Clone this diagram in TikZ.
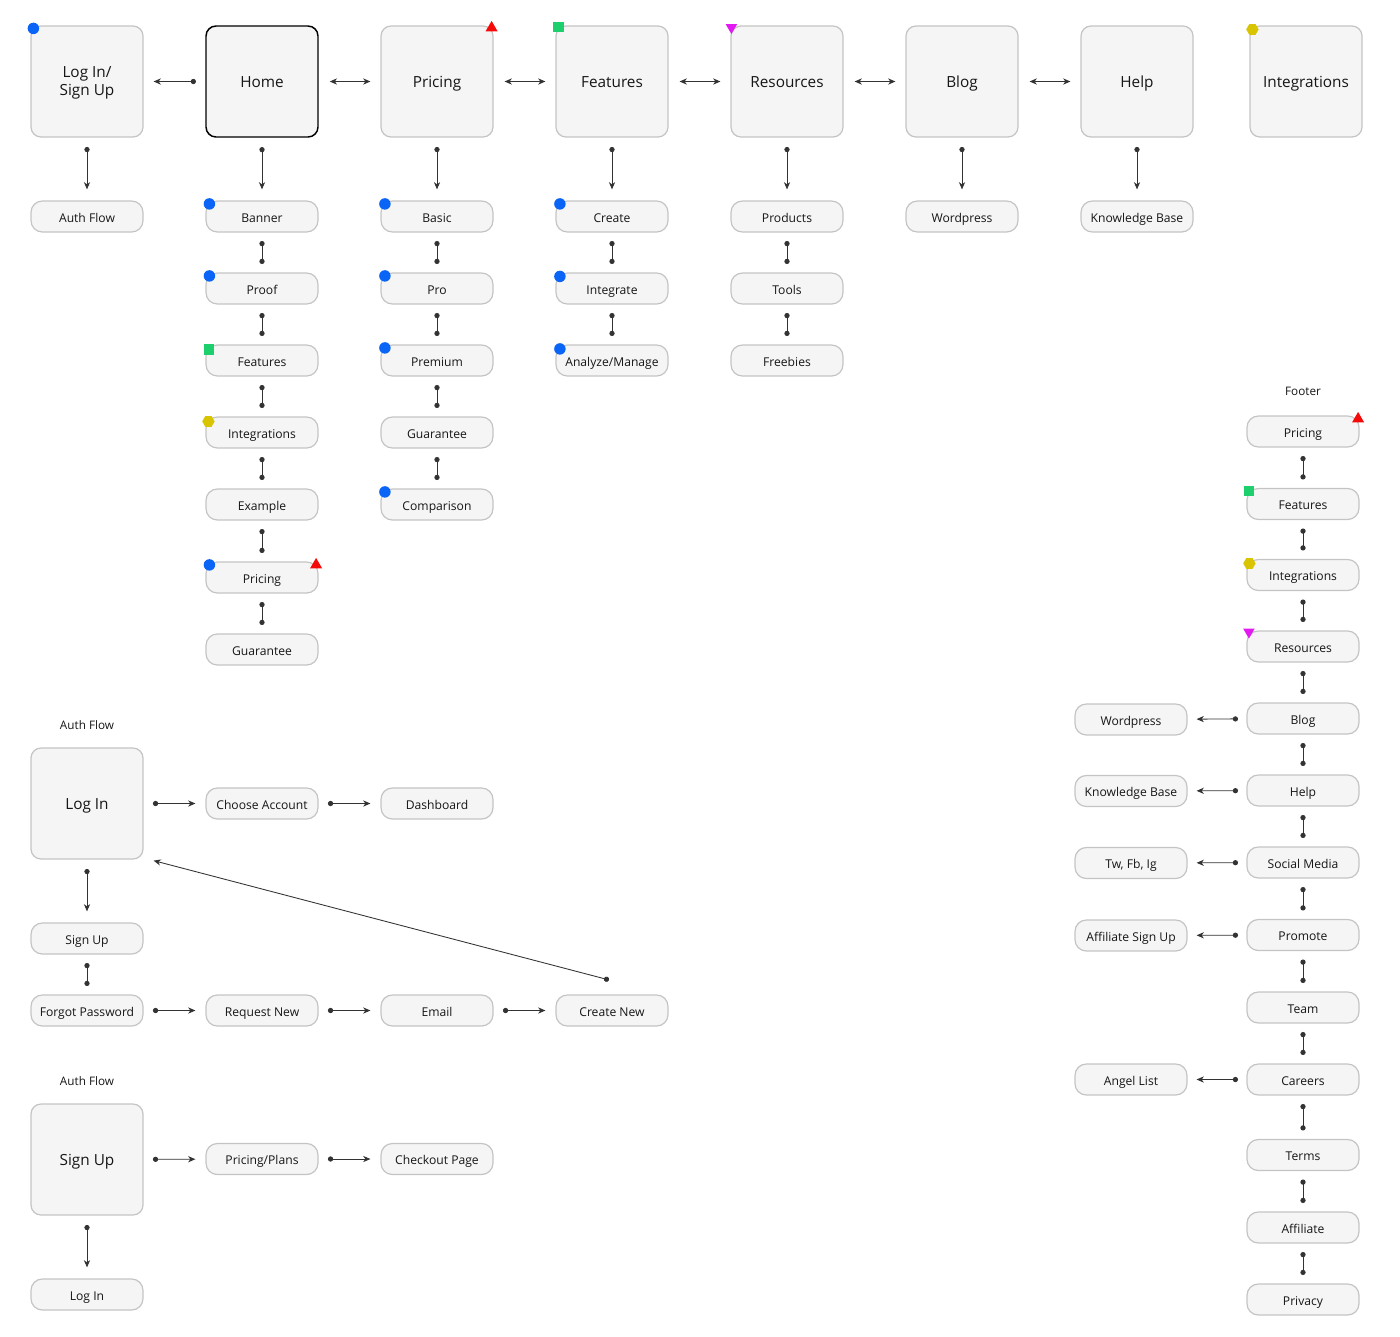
\documentclass[tikz,border=0pt]{standalone}
\usepackage{fontspec}
\setmainfont{Open Sans}
\usetikzlibrary{arrows.meta,shapes.geometric}
\definecolor{boxfill}{HTML}{F5F5F5}
\definecolor{boxline}{HTML}{C4C4C4}
\definecolor{linec}{HTML}{333333}
\definecolor{textc}{HTML}{161616}
\definecolor{mblue}{HTML}{0A64F5}
\definecolor{mred}{HTML}{F50A0A}
\definecolor{mgreen}{HTML}{1ECF6E}
\definecolor{mmag}{HTML}{E01AF0}
\definecolor{myel}{HTML}{D8C400}
\begin{document}
\begin{tikzpicture}[x=0.75pt,y=-0.75pt,
  boxbase/.style={draw=boxline, fill=boxfill, line width=0.9pt, rounded corners=7.5pt,
    minimum width=84pt, minimum height=83.25pt, inner sep=0pt, align=center,
    text=textc, font=\fontsize{11.5}{13.5}\selectfont},
  bigbox/.style={boxbase, text height=0.9em, text depth=0pt},
  twoline/.style={boxbase, text depth=0pt},
  homebox/.style={bigbox, draw=black, line width=1.1pt},
  smallbox/.style={draw=boxline, fill=boxfill, line width=0.9pt, rounded corners=8.5pt,
    minimum width=84pt, minimum height=23.25pt, inner sep=0pt,
    text=textc, font=\fontsize{9.1}{10}\selectfont, text height=0.87em, text depth=0pt},
  caption/.style={text=textc, font=\fontsize{8.8}{10}\selectfont, inner sep=0pt},
  arr/.style={draw=linec, line width=0.65pt,
    {Circle[length=3.9pt]}-{Stealth[length=5.4pt,width=4.6pt,inset=1.6pt]},
    shorten <=7pt, shorten >=7.5pt},
  varr/.style={arr, shorten >=8.25pt},
  bi/.style={draw=linec, line width=0.65pt,
    {Stealth[length=5.4pt,width=4.6pt,inset=1.6pt]}-{Stealth[length=5.4pt,width=4.6pt,inset=1.6pt]},
    shorten <=8.25pt, shorten >=7.5pt},
  dd/.style={draw=linec, line width=0.65pt,
    {Circle[length=3.9pt]}-{Circle[length=3.9pt]},
    shorten <=6.3pt, shorten >=6.3pt},
  bluem/.style={circle, fill=mblue, minimum size=8.6pt, inner sep=0pt},
  greenm/.style={rectangle, fill=mgreen, minimum size=7.8pt, inner sep=0pt},
  redm/.style={regular polygon, regular polygon sides=3, fill=mred, minimum size=10.5pt, inner sep=0pt},
  magm/.style={regular polygon, regular polygon sides=3, shape border rotate=180, fill=mmag, minimum size=10pt, inner sep=0pt},
  yelm/.style={regular polygon, regular polygon sides=6, fill=myel, minimum size=9.3pt, inner sep=0pt},
]
\useasboundingbox (0,0) rectangle (1400,1336);

% ---------------- top row ----------------
\node[twoline] (login) at (87,81.5) {Log In/\\Sign Up};
\node[homebox] (home) at (262,81.5) {Home};
\node[bigbox] (pricing) at (437,81.5) {Pricing};
\node[bigbox] (features) at (612,81.5) {Features};
\node[bigbox] (resources) at (787,81.5) {Resources};
\node[bigbox] (blog) at (962,81.5) {Blog};
\node[bigbox] (help) at (1137,81.5) {Help};
\node[bigbox] (integr) at (1306,81.5) {Integrations};

% sub pages
\node[smallbox] (authflow) at (87,216.5) {Auth Flow};

\node[smallbox] (banner) at (262,216.5) {Banner};
\node[smallbox] (proof) at (262,288.5) {Proof};
\node[smallbox] (hfeat) at (262,360.5) {Features};
\node[smallbox] (hint) at (262,432.5) {Integrations};
\node[smallbox] (hex) at (262,504.5) {Example};
\node[smallbox] (hpri) at (262,577.5) {Pricing};
\node[smallbox] (hgua) at (262,649.5) {Guarantee};

\node[smallbox] (basic) at (437,216.5) {Basic};
\node[smallbox] (pro) at (437,288.5) {Pro};
\node[smallbox] (premium) at (437,360.5) {Premium};
\node[smallbox] (pgua) at (437,432.5) {Guarantee};
\node[smallbox] (compar) at (437,504.5) {Comparison};

\node[smallbox] (create) at (612,216.5) {Create};
\node[smallbox] (integrate) at (612,288.5) {Integrate};
\node[smallbox] (analyze) at (612,360.5) {Analyze/Manage};

\node[smallbox] (products) at (787,216.5) {Products};
\node[smallbox] (tools) at (787,288.5) {Tools};
\node[smallbox] (freebies) at (787,360.5) {Freebies};

\node[smallbox] (wp) at (962,216.5) {Wordpress};
\node[smallbox] (kb) at (1137,216.5) {Knowledge Base};

% top row connectors
\draw[arr] (home) -- (login);
\draw[bi] (home) -- (pricing);
\draw[bi] (pricing) -- (features);
\draw[bi] (features) -- (resources);
\draw[bi] (resources) -- (blog);
\draw[bi] (blog) -- (help);

\draw[varr] (login) -- (authflow);
\draw[varr] (home) -- (banner);
\draw[varr] (pricing) -- (basic);
\draw[varr] (features) -- (create);
\draw[varr] (resources) -- (products);
\draw[varr] (blog) -- (wp);
\draw[varr] (help) -- (kb);

\draw[dd] (banner) -- (proof);
\draw[dd] (proof) -- (hfeat);
\draw[dd] (hfeat) -- (hint);
\draw[dd] (hint) -- (hex);
\draw[dd] (hex) -- (hpri);
\draw[dd] (hpri) -- (hgua);

\draw[dd] (basic) -- (pro);
\draw[dd] (pro) -- (premium);
\draw[dd] (premium) -- (pgua);
\draw[dd] (pgua) -- (compar);

\draw[dd] (create) -- (integrate);
\draw[dd] (integrate) -- (analyze);

\draw[dd] (products) -- (tools);
\draw[dd] (tools) -- (freebies);

% ---------------- footer ----------------
\node[caption] (footerlbl) at (1303,391) {Footer};
\node[smallbox] (fpri) at (1303,431.5) {Pricing};
\node[smallbox] (ffeat) at (1303,504) {Features};
\node[smallbox] (fint) at (1303,575) {Integrations};
\node[smallbox] (fres) at (1303,646.5) {Resources};
\node[smallbox] (fblog) at (1303,718.5) {Blog};
\node[smallbox] (fhelp) at (1303,790.5) {Help};
\node[smallbox] (fsoc) at (1303,862.5) {Social Media};
\node[smallbox] (fprom) at (1303,935) {Promote};
\node[smallbox] (fteam) at (1303,1007.5) {Team};
\node[smallbox] (fcar) at (1303,1079.5) {Careers};
\node[smallbox] (fterms) at (1303,1155) {Terms};
\node[smallbox] (faff) at (1303,1227.5) {Affiliate};
\node[smallbox] (fpriv) at (1303,1299.5) {Privacy};

\node[smallbox] (lwp) at (1131,719.5) {Wordpress};
\node[smallbox] (lkb) at (1131,791) {Knowledge Base};
\node[smallbox] (ltw) at (1131,863) {Tw, Fb, Ig};
\node[smallbox] (laff) at (1131,935.5) {Affiliate Sign Up};
\node[smallbox] (langel) at (1131,1079.5) {Angel List};

\draw[dd] (fpri) -- (ffeat);
\draw[dd] (ffeat) -- (fint);
\draw[dd] (fint) -- (fres);
\draw[dd] (fres) -- (fblog);
\draw[dd] (fblog) -- (fhelp);
\draw[dd] (fhelp) -- (fsoc);
\draw[dd] (fsoc) -- (fprom);
\draw[dd] (fprom) -- (fteam);
\draw[dd] (fteam) -- (fcar);
\draw[dd] (fcar) -- (fterms);
\draw[dd] (fterms) -- (faff);
\draw[dd] (faff) -- (fpriv);

\draw[arr, shorten <=6.3pt, shorten >=6.75pt] (fblog) -- (lwp);
\draw[arr, shorten <=6.3pt, shorten >=6.75pt] (fhelp) -- (lkb);
\draw[arr, shorten <=6.3pt, shorten >=6.75pt] (fsoc) -- (ltw);
\draw[arr, shorten <=6.3pt, shorten >=6.75pt] (fprom) -- (laff);
\draw[arr, shorten <=6.3pt, shorten >=6.75pt] (fcar) -- (langel);

% ---------------- auth flow 1 ----------------
\node[caption] (af1) at (87,725) {Auth Flow};
\node[bigbox] (alogin) at (87,803.5) {Log In};
\node[smallbox] (choose) at (262,803.5) {Choose Account};
\node[smallbox] (dash) at (437,803.5) {Dashboard};
\node[smallbox] (asignup) at (87,938.5) {Sign Up};
\node[smallbox] (forgot) at (87,1010.5) {Forgot Password};
\node[smallbox] (reqnew) at (262,1010.5) {Request New};
\node[smallbox] (email) at (437,1010.5) {Email};
\node[smallbox] (crnew) at (612,1010.5) {Create New};

\draw[arr] (alogin) -- (choose);
\draw[arr] (choose) -- (dash);
\draw[varr] (alogin) -- (asignup);
\draw[dd] (asignup) -- (forgot);
\draw[arr] (forgot) -- (reqnew);
\draw[arr] (reqnew) -- (email);
\draw[arr] (email) -- (crnew);
\draw[arr, shorten <=0pt, shorten >=0pt] ([shift={(-3,-14.5)}]crnew.north) -- ([shift={(10,1)}]alogin.south east);

% ---------------- auth flow 2 ----------------
\node[caption] (af2) at (87,1081.5) {Auth Flow};
\node[bigbox] (bsignup) at (87,1159.5) {Sign Up};
\node[smallbox] (plans) at (262,1159) {Pricing/Plans};
\node[smallbox] (checkout) at (437,1159) {Checkout Page};
\node[smallbox] (blogin) at (87,1294.5) {Log In};

\draw[arr] (bsignup) -- (plans);
\draw[arr] (plans) -- (checkout);
\draw[varr] (bsignup) -- (blogin);

% ---------------- markers ----------------
\node[bluem] (m1) at ([shift={(3,3)}]login.north west) {};
\node[redm] (m2) at ([shift={(-2,2.5)}]pricing.north east) {};
\node[greenm] (m3) at ([shift={(3,1.5)}]features.north west) {};
\node[magm] (m4) at ([shift={(1,2)}]resources.north west) {};
\node[yelm] (m5) at ([shift={(3,4)}]integr.north west) {};

\node[bluem] (m6) at ([shift={(4,3.5)}]banner.north west) {};
\node[bluem] (m7) at ([shift={(4,3.5)}]proof.north west) {};
\node[greenm] (m8) at ([shift={(3.5,5)}]hfeat.north west) {};
\node[yelm] (m9) at ([shift={(3,5)}]hint.north west) {};
\node[bluem] (m10) at ([shift={(4,3.5)}]hpri.north west) {};
\node[redm] (m11) at ([shift={(-2.5,3.5)}]hpri.north east) {};

\node[bluem] (m12) at ([shift={(4.5,3.5)}]basic.north west) {};
\node[bluem] (m13) at ([shift={(4.5,3.5)}]pro.north west) {};
\node[bluem] (m14) at ([shift={(4.5,3.5)}]premium.north west) {};
\node[bluem] (m15) at ([shift={(4.5,3.5)}]compar.north west) {};

\node[bluem] (m16) at ([shift={(4.5,3.5)}]create.north west) {};
\node[bluem] (m17) at ([shift={(4.5,4)}]integrate.north west) {};
\node[bluem] (m18) at ([shift={(4.5,4.5)}]analyze.north west) {};

\node[redm] (m19) at ([shift={(-1.5,3.5)}]fpri.north east) {};
\node[greenm] (m20) at ([shift={(2.5,3)}]ffeat.north west) {};
\node[yelm] (m21) at ([shift={(3,4.5)}]fint.north west) {};
\node[magm] (m22) at ([shift={(2.5,1.5)}]fres.north west) {};
\end{tikzpicture}
\end{document}
